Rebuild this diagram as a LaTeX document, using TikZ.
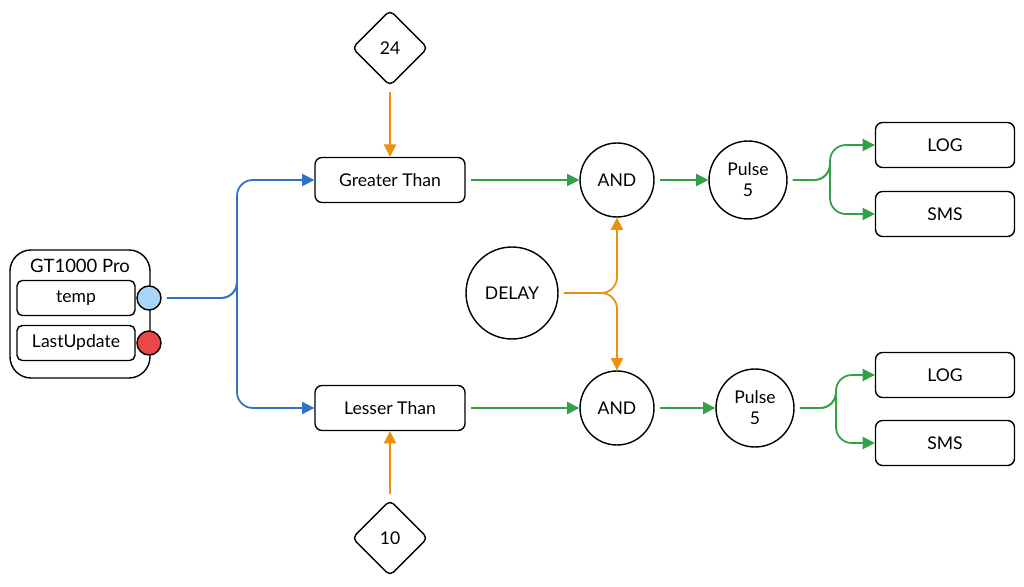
\documentclass[tikz,border=0pt]{standalone}
\usepackage{fontspec}
\setmainfont{Lato}
\usetikzlibrary{shapes.geometric,arrows.meta}

\definecolor{wireblue}{HTML}{2F72C4}
\definecolor{wireorange}{HTML}{EB900F}
\definecolor{wiregreen}{HTML}{34A046}
\definecolor{portblue}{HTML}{A9D6F7}
\definecolor{portred}{HTML}{EC4646}

\tikzset{
  box/.style={draw, thick, rounded corners=4pt, minimum width=3.0cm, minimum height=0.9cm, font=\fontsize{10}{12}\selectfont},
  field/.style={draw, rounded corners=3pt, thick, minimum width=2.36cm, minimum height=0.7cm, font=\fontsize{10}{12}\selectfont},
  gate/.style={draw, thick, circle, minimum size=1.48cm, align=center, font=\fontsize{10}{12}\selectfont},
  limit/.style={draw, thick, diamond, rounded corners=3pt, minimum size=1.52cm, font=\fontsize{10}{12}\selectfont},
  port/.style={draw, thick, circle, minimum size=0.48cm, inner sep=0pt},
  wire/.style={line width=1pt, rounded corners=9pt, shorten <=3pt, -{Triangle[length=7pt,width=7pt]}},
}

\begin{document}
\begin{tikzpicture}[x=0.02cm,y=-0.02cm]
\useasboundingbox (0,0) rectangle (1024,587);

% Sensor block
\draw[thick, rounded corners=12pt] (10,250) rectangle (150,378);
\node[font=\fontsize{10.5}{12}\selectfont] (title) at (80,266) {GT1000 Pro};
\node[field] (temp) at (76,298) {temp};
\node[field] (upd) at (76,343) {LastUpdate};
\node[port, fill=portblue] (tport) at (149,298) {};
\node[port, fill=portred] (uport) at (149,343) {};

% Comparators and limits
\node[box] (gt) at (390,180) {Greater Than};
\node[box] (lt) at (390,408) {Lesser Than};
\node[limit] (hi) at (390,48) {24};
\node[limit] (lo) at (390,538) {10};

% Logic
\node[gate] (and1) at (617,180) {AND};
\node[gate] (and2) at (617,408) {AND};
\node[gate, minimum size=1.84cm] (delay) at (512,293) {DELAY};
\node[gate, minimum size=1.56cm] (pulse1) at (748,180) {Pulse\\5};
\node[gate, minimum size=1.56cm] (pulse2) at (755,408) {Pulse\\5};

% Outputs
\node[box, minimum width=2.78cm] (log1) at (945,145) {LOG};
\node[box, minimum width=2.78cm] (sms1) at (945,214) {SMS};
\node[box, minimum width=2.78cm] (log2) at (945,375) {LOG};
\node[box, minimum width=2.78cm] (sms2) at (945,443) {SMS};

% Sensor to comparators
\coordinate (split) at (237,298);
\draw[wire, wireblue] (tport) -| (split) |- (gt.west);
\draw[wire, wireblue] (tport) -| (split) |- (lt.west);

% Limits
\draw[wire, wireorange] (hi) -- (gt);
\draw[wire, wireorange] (lo) -- (lt);

% Delay to both AND gates
\draw[wire, wireorange] (delay.east) -| (and1.south);
\draw[wire, wireorange] (delay.east) -| (and2.north);

% Main chain
\draw[wire, wiregreen] (gt) -- (and1);
\draw[wire, wiregreen] (lt) -- (and2);
\draw[wire, wiregreen] (and1) -- (pulse1);
\draw[wire, wiregreen] (and2) -- (pulse2);

% Fan out
\coordinate (fork1) at (830,180);
\coordinate (fork2) at (836,408);
\draw[wire, wiregreen] (pulse1.east) -| (fork1) |- (log1.west);
\draw[wire, wiregreen] (pulse1.east) -| (fork1) |- (sms1.west);
\draw[wire, wiregreen] (pulse2.east) -| (fork2) |- (log2.west);
\draw[wire, wiregreen] (pulse2.east) -| (fork2) |- (sms2.west);
\end{tikzpicture}
\end{document}
